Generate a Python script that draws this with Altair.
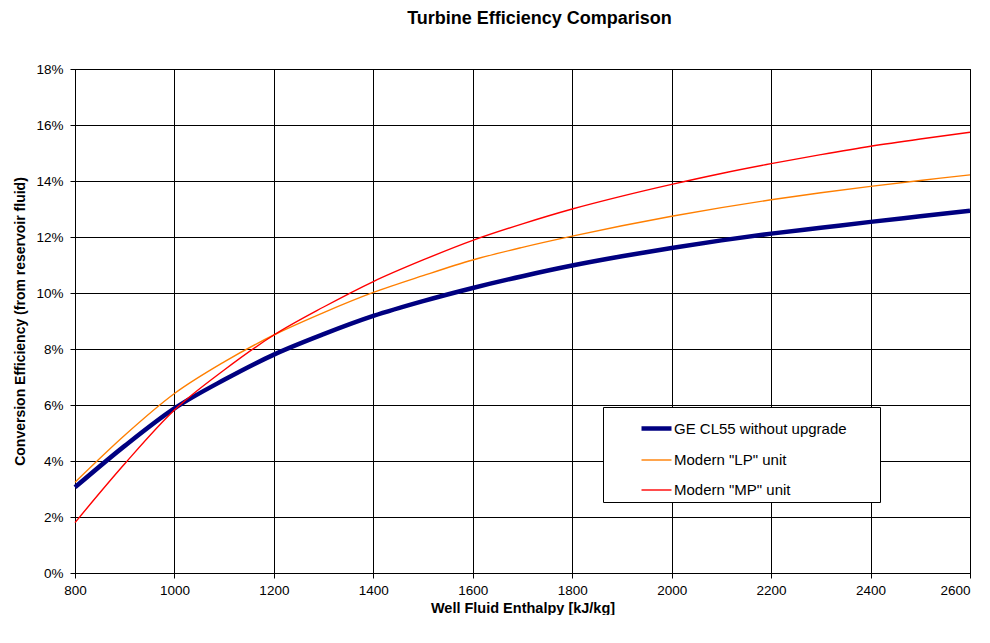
import altair as alt
import pandas as pd

enthalpy = [800, 900, 1000, 1100, 1200, 1300, 1400, 1500, 1600, 1700, 1800,
            1900, 2000, 2100, 2200, 2300, 2400, 2500, 2600]
ge_cl55 = [3.06, 4.54, 5.88, 6.90, 7.80, 8.53, 9.18, 9.71, 10.18, 10.60, 10.98,
           11.31, 11.61, 11.88, 12.12, 12.33, 12.54, 12.74, 12.94]
modern_lp = [3.24, 4.92, 6.41, 7.54, 8.50, 9.30, 10.02, 10.62, 11.18, 11.63, 12.03,
             12.40, 12.74, 13.05, 13.33, 13.58, 13.81, 14.02, 14.22]
modern_mp = [1.80, 3.90, 5.82, 7.25, 8.50, 9.50, 10.41, 11.18, 11.88, 12.47, 13.00,
             13.46, 13.88, 14.27, 14.62, 14.94, 15.24, 15.50, 15.74]

series_names = ["GE CL55 without upgrade", 'Modern "LP" unit', 'Modern "MP" unit']
series_colors = ["#000080", "#FF7F00", "#FF0000"]
series_widths = [4.5, 1.4, 1.4]

rows = []
for name, vals in zip(series_names, [ge_cl55, modern_lp, modern_mp]):
    for x, v in zip(enthalpy, vals):
        rows.append({"enthalpy": x, "eff": v / 100.0, "series": name})
df = pd.DataFrame(rows)

font = "Liberation Sans"

chart = alt.Chart(df).mark_line(interpolate="cardinal").encode(
    x=alt.X("enthalpy:Q",
            scale=alt.Scale(domain=[800, 2600], nice=False),
            axis=alt.Axis(title="Well Fluid Enthalpy [kJ/kg]", values=list(range(800, 2601, 200)),
                          format="d", labelFont=font, labelFontSize=13.5, labelColor="#000",
                          labelFlush=False,
                          labelAlign={"condition": {"test": "datum.value >= 2600", "value": "right"},
                                      "value": "center"},
                          titleFont=font, titleFontSize=14.5, titleFontWeight="bold",
                          titleColor="#000", titlePadding=5, tickColor="#000",
                          domainColor="#000", gridColor="#000", tickSize=5, labelPadding=5)),
    y=alt.Y("eff:Q",
            scale=alt.Scale(domain=[0, 0.18], nice=False),
            axis=alt.Axis(title="Conversion Efficiency (from reservoir fluid)",
                          values=[i / 100 for i in range(0, 19, 2)], format=".0%",
                          labelFont=font, labelFontSize=13.5, labelColor="#000",
                          titleFont=font, titleFontSize=14, titleFontWeight="bold",
                          titleColor="#000", titlePadding=8, tickColor="#000",
                          domainColor="#000", gridColor="#000", tickSize=5, labelPadding=7)),
    color=alt.Color("series:N",
                    scale=alt.Scale(domain=series_names, range=series_colors),
                    legend=alt.Legend(title="|", titleOrient="right", titleOpacity=0,
                                      titleFontSize=10, titlePadding=26,
                                      orient="none", legendX=528, legendY=338,
                                      fillColor="#fff", strokeColor="#000", padding=4,
                                      labelFont=font, labelFontSize=15, labelColor="#000",
                                      symbolType="stroke", symbolSize=900, rowPadding=6,
                                      symbolOffset=32, labelOffset=0,
                                      labelLimit=400, offset=0)),
    strokeWidth=alt.StrokeWidth("series:N",
                                scale=alt.Scale(type="ordinal", domain=series_names,
                                                range=series_widths),
                                legend=None),
    order=alt.Order("enthalpy:Q"),
).properties(
    width=895,
    height=504,
    padding={"left": 5, "top": 2, "right": 0, "bottom": 0},
    title=alt.TitleParams("Turbine Efficiency Comparison", font=font, fontSize=18,
                          fontWeight="bold", color="#000", offset=34, dx=17),
).configure_view(stroke="#000", strokeWidth=1).configure_axis(gridOpacity=1)

chart.save("out.html", embed_options={"renderer": "svg", "actions": False})
